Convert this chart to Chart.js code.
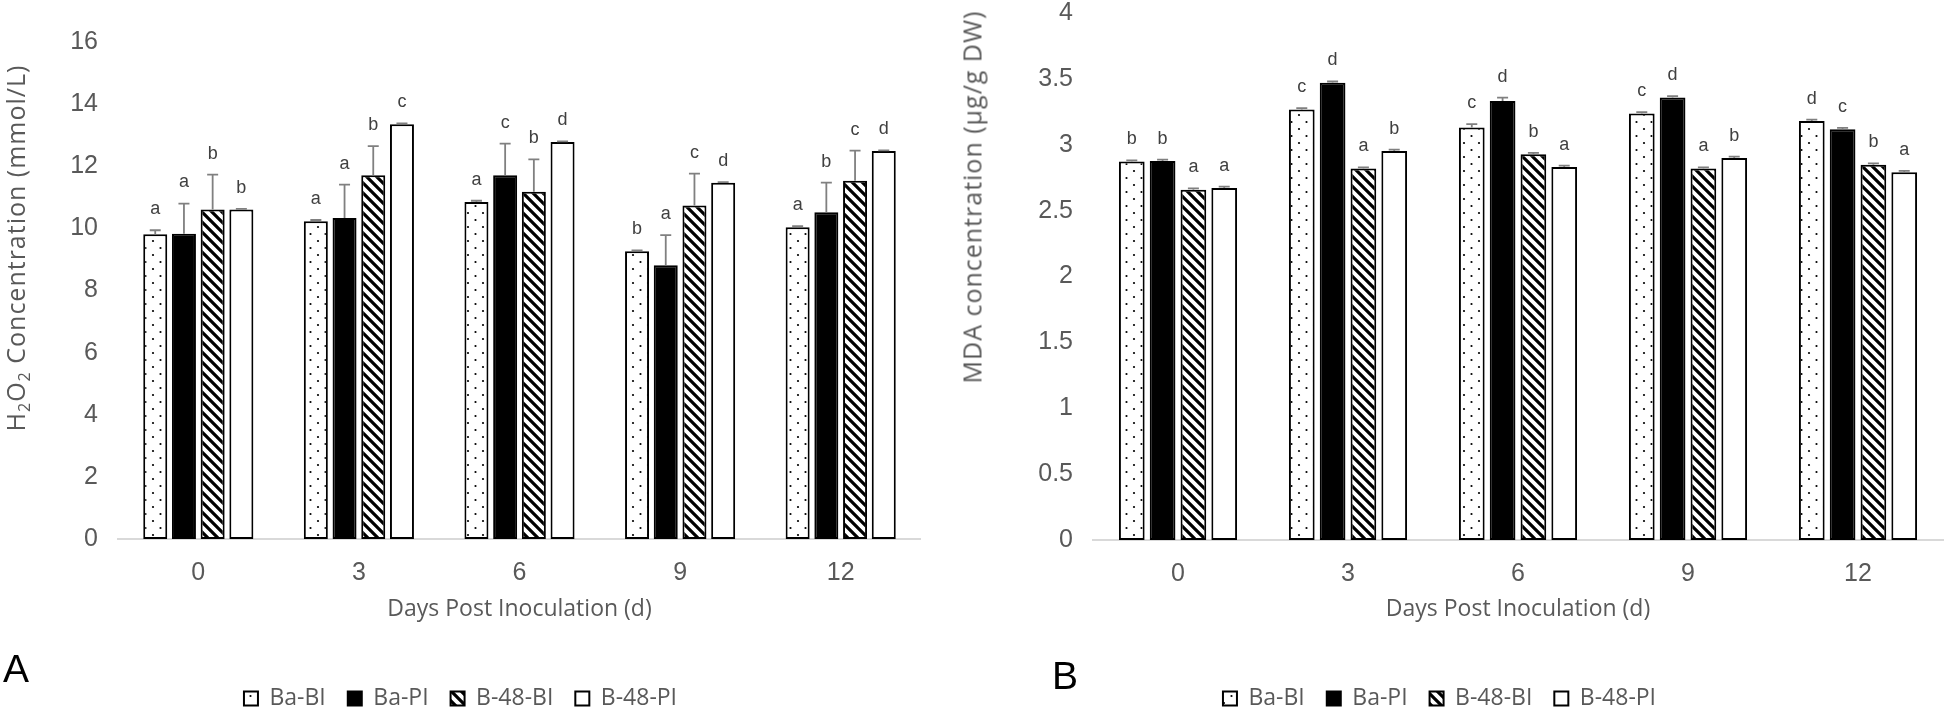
<!DOCTYPE html>
<html><head><meta charset="utf-8">
<script src="https://cdn.jsdelivr.net/npm/chart.js@4"></script>
<style>
html,body{margin:0;padding:0;background:#fff;overflow:hidden;width:1946px;height:709px;position:relative;}
#cA{position:absolute;left:0;top:0;}
#cB{position:absolute;left:936px;top:0;}
.ytitle{position:absolute;font-family:'Open Sans',sans-serif;font-size:25px;color:#595959;letter-spacing:1px;white-space:nowrap;line-height:1;transform:translate(-50%,-50%) rotate(-90deg);z-index:2;}
.ytitle sub{font-size:16px;vertical-align:-5px;}
.panel{position:absolute;font-family:'Liberation Sans',Arial,sans-serif;font-size:39px;color:#000;line-height:1;z-index:2;}
</style></head>
<body>
<canvas id="cA" width="921" height="720"></canvas>
<canvas id="cB" width="1010" height="720"></canvas>
<div class="ytitle" style="left:17px;top:248px;">H<sub>2</sub>O<sub>2</sub> Concentration (mmol/L)</div>
<div class="ytitle" style="left:972px;top:197px;">MDA concentration (μg/g DW)</div>
<div class="panel" style="left:3px;top:649px;">A</div>
<div class="panel" style="left:1052px;top:656px;">B</div>
<script>
// ---- data ----
const days = ['0', '3', '6', '9', '12'];
const seriesNames = ['Ba-BI', 'Ba-PI', 'B-48-BI', 'B-48-PI'];
const xTitle = 'Days Post Inoculation (d)';

// H2O2 (mmol/L)
const h2o2BaBI   = [9.81, 10.23, 10.85, 9.26, 10.04];
const h2o2BaPI   = [9.83, 10.33, 11.71, 8.81, 10.52];
const h2o2B48BI  = [10.61, 11.71, 11.18, 10.74, 11.53];
const h2o2B48PI  = [10.61, 13.35, 12.78, 11.47, 12.49];
const h2o2ErrBaBI  = [0.13, 0.04, 0.04, 0.03, 0.03];
const h2o2ErrBaPI  = [0.97, 1.08, 1.02, 0.97, 0.95];
const h2o2ErrB48BI = [1.12, 0.94, 1.04, 1.02, 0.97];
const h2o2ErrB48PI = [0.02, 0.03, 0.02, 0.02, 0.02];
const h2o2LetBaBI  = ['a', 'a', 'a', 'b', 'a'];
const h2o2LetBaPI  = ['a', 'a', 'c', 'a', 'b'];
const h2o2LetB48BI = ['b', 'b', 'b', 'c', 'c'];
const h2o2LetB48PI = ['b', 'c', 'd', 'd', 'd'];
const h2o2YMax = 16, h2o2YStep = 2;

// MDA (ug/g DW)
const mdaBaBI   = [2.872, 3.268, 3.131, 3.237, 3.181];
const mdaBaPI   = [2.877, 3.470, 3.333, 3.359, 3.118];
const mdaB48BI  = [2.659, 2.819, 2.928, 2.819, 2.849];
const mdaB48PI  = [2.672, 2.953, 2.831, 2.900, 2.791];
const mdaErrBaBI  = [0.01, 0.01, 0.025, 0.01, 0.01];
const mdaErrBaPI  = [0.01, 0.01, 0.025, 0.01, 0.01];
const mdaErrB48BI = [0.01, 0.01, 0.01, 0.01, 0.01];
const mdaErrB48PI = [0.01, 0.01, 0.01, 0.01, 0.01];
const mdaLetBaBI  = ['b', 'c', 'c', 'c', 'd'];
const mdaLetBaPI  = ['b', 'd', 'd', 'd', 'c'];
const mdaLetB48BI = ['a', 'a', 'b', 'a', 'b'];
const mdaLetB48PI = ['a', 'b', 'a', 'b', 'a'];
const mdaYMax = 4, mdaYStep = 0.5;

// ---- fills ----
function dotPattern() {
  const c = document.createElement('canvas'); c.width = 15; c.height = 14;
  const x = c.getContext('2d');
  x.fillStyle = '#fff'; x.fillRect(0, 0, 15, 14);
  x.fillStyle = '#000';
  [[3, 3], [10.5, 10]].forEach(([a, b]) => { x.beginPath(); x.arc(a, b, 1.1, 0, Math.PI * 2); x.fill(); });
  return x.createPattern(c, 'repeat');
}
function hatchPattern() {
  const s = 10;
  const c = document.createElement('canvas'); c.width = s; c.height = s;
  const x = c.getContext('2d');
  x.fillStyle = '#fff'; x.fillRect(0, 0, s, s);
  x.strokeStyle = '#000'; x.lineWidth = 3.2;
  x.beginPath();
  [-s, 0, s].forEach(k => { x.moveTo(k - 3, -3); x.lineTo(k + s + 3, s + 3); });
  x.stroke();
  return x.createPattern(c, 'repeat');
}
const fills = [dotPattern(), '#000000', hatchPattern(), '#ffffff'];

// ---- error bars and letters ----
const errPlugin = {
  id: 'errLetters',
  afterDatasetsDraw(chart) {
    const ctx = chart.ctx, ys = chart.scales.y;
    chart.data.datasets.forEach((ds, i) => {
      const meta = chart.getDatasetMeta(i);
      meta.data.forEach((bar, j) => {
        const top = ys.getPixelForValue(ds.data[j] + ds.errors[j]);
        ctx.save();
        ctx.strokeStyle = '#808080'; ctx.lineWidth = 1.8;
        ctx.beginPath();
        ctx.moveTo(bar.x, bar.y); ctx.lineTo(bar.x, top);
        ctx.moveTo(bar.x - 5.5, top); ctx.lineTo(bar.x + 5.5, top);
        ctx.stroke();
        ctx.fillStyle = '#404040';
        ctx.font = '18px "Liberation Sans", Arial, sans-serif';
        ctx.textAlign = 'center'; ctx.textBaseline = 'middle';
        ctx.fillText(ds.letters[j], bar.x, top - 21);
        ctx.restore();
      });
    });
  }
};

function build(id, vals, errs, lets, yMax, yStep, o) {
  return new Chart(document.getElementById(id), {
    type: 'bar',
    data: {
      labels: days,
      datasets: seriesNames.map((n, i) => ({
        label: n, data: vals[i], errors: errs[i], letters: lets[i],
        backgroundColor: fills[i], borderColor: '#000', borderWidth: 2, borderSkipped: false,
        categoryPercentage: o.cp, barPercentage: o.bp
      }))
    },
    options: {
      responsive: false, animation: false,
      layout: { padding: { top: o.top, right: o.right, left: 0, bottom: 0 } },
      plugins: {
        legend: {
          position: 'bottom',
          labels: { boxWidth: 14, boxHeight: 14, padding: 22, color: '#595959',
                    font: { family: 'Open Sans', size: 23 } }
        },
        tooltip: { enabled: false }
      },
      scales: {
        x: {
          grid: { display: false, drawTicks: false },
          border: { display: true, color: '#d9d9d9', width: 2 },
          ticks: { color: '#595959', font: { family: 'Liberation Sans', size: 25 }, padding: 19 },
          title: { display: true, text: xTitle, color: '#595959',
                   font: { family: 'Open Sans', size: 23 }, padding: { top: 0, bottom: 42 } },
          afterFit(s) { s.height = o.xh; s.paddingLeft = 0; s.paddingRight = 0; }
        },
        y: {
          min: 0, max: yMax,
          ticks: { stepSize: yStep, color: '#595959', font: { family: 'Liberation Sans', size: 25 }, padding: 20,
                   callback: (v) => String(Math.round(v * 100) / 100) },
          grid: { display: false, drawTicks: false },
          border: { display: false },
          afterFit(s) { s.width = o.yw; s.paddingTop = 0; s.paddingBottom = 0; }
        }
      }
    },
    plugins: [errPlugin]
  });
}

build('cA',
  [h2o2BaBI, h2o2BaPI, h2o2B48BI, h2o2B48PI],
  [h2o2ErrBaBI, h2o2ErrBaPI, h2o2ErrB48BI, h2o2ErrB48PI],
  [h2o2LetBaBI, h2o2LetBaPI, h2o2LetB48BI, h2o2LetB48PI],
  h2o2YMax, h2o2YStep,
  { cp: 0.715, bp: 0.836, top: 42, right: 0, yw: 118, xh: 126 });

build('cB',
  [mdaBaBI, mdaBaPI, mdaB48BI, mdaB48PI],
  [mdaErrBaBI, mdaErrBaPI, mdaErrB48BI, mdaErrB48PI],
  [mdaLetBaBI, mdaLetBaPI, mdaLetB48BI, mdaLetB48PI],
  mdaYMax, mdaYStep,
  { cp: 0.725, bp: 0.834, top: 13, right: 3, yw: 157, xh: 125 });
</script>
</body></html>
